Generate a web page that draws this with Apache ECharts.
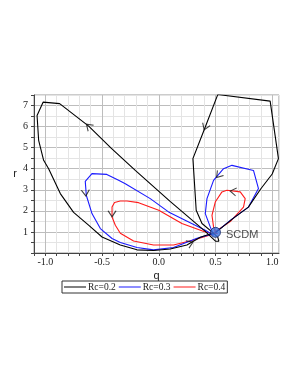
<!DOCTYPE html>
<html>
<head>
<meta charset="utf-8">
<script src="https://cdn.jsdelivr.net/npm/echarts@6/dist/echarts.min.js"></script>
<style>
html,body{margin:0;padding:0;background:#fff;}
#chart{width:300px;height:388px;}
</style>
</head>
<body>
<div id="chart"></div>
<script>
// ---- data ----
var seriesNames = ['Rc=0.2', 'Rc=0.3', 'Rc=0.4'];

var blackQ = [0.50, 0.65, 0.79, 0.90, 1.00, 1.055, 0.982, 0.52, 0.41, 0.301, 0.33, 0.381, 0.469, 0.52, 0.53, 0.50, 0.41, 0.10, -0.207, -0.42, -0.618, -0.874, -1.02, -1.073, -1.059, -1.015, -0.971, -0.868, -0.751, -0.619, -0.50, -0.339, -0.192, -0.046, 0.101, 0.248, 0.366, 0.48];
var blackR = [0.97, 1.62, 2.18, 3.05, 3.75, 4.48, 7.21, 7.52, 5.98, 4.48, 2.03, 1.40, 1.00, 0.75, 0.56, 0.56, 1.03, 2.45, 3.92, 4.98, 6.02, 7.09, 7.16, 6.53, 5.35, 4.40, 4.00, 2.82, 1.93, 1.32, 0.76, 0.38, 0.15, 0.12, 0.19, 0.38, 0.75, 0.95];

var blueQ = [0.50, 0.63, 0.791, 0.879, 0.835, 0.645, 0.571, 0.483, 0.425, 0.41, 0.454, 0.483, 0.41, 0.086, -0.075, -0.295, -0.354, -0.458, -0.589, -0.648, -0.639, -0.589, -0.515, -0.412, -0.339, -0.192, -0.046, 0.13, 0.337, 0.48];
var blueR = [0.97, 1.55, 2.18, 3.06, 3.92, 4.16, 4.00, 3.45, 2.58, 1.87, 1.24, 0.84, 1.08, 1.95, 2.58, 3.29, 3.45, 3.73, 3.77, 3.40, 2.74, 1.87, 1.16, 0.69, 0.50, 0.26, 0.15, 0.26, 0.70, 0.92];

var redQ = [0.52, 0.41, 0.204, 0.0, -0.178, -0.280, -0.340, -0.390, -0.412, -0.412, -0.383, -0.339, -0.222, -0.046, 0.13, 0.307, 0.454, 0.63, 0.747, 0.762, 0.718, 0.601, 0.557, 0.498, 0.469, 0.483, 0.50];
var redR = [0.92, 1.00, 1.40, 2.03, 2.39, 2.47, 2.47, 2.40, 2.18, 1.71, 1.32, 0.94, 0.57, 0.38, 0.38, 0.62, 0.86, 1.49, 2.18, 2.58, 2.90, 2.98, 2.90, 2.42, 1.79, 1.24, 1.00];

// direction arrows: position and rotation (deg)
var arrowQ = [-0.618, 0.41, 0.277, -0.645, 0.527, -0.412, 0.656];
var arrowR = [6.02, 5.98, 0.46, 2.85, 3.69, 1.86, 2.92];
var arrowRot = [227, -22, 113, 5, -40, 0, -98];

var pointQ = 0.5, pointR = 0.98, pointLabel = 'SCDM';

var xTickStep = 0.1, yTickStep = 0.5;

// ---- chart ----
function pairs(qs, rs) { return qs.map(function (q, i) { return [q, rs[i]]; }); }

var chart = echarts.init(document.getElementById('chart'), null, {renderer: 'canvas'});
var serif = 'Liberation Serif';
var sans = 'Liberation Sans';
var colors = ['#000000', '#1a1aff', '#ff1a1a'];

var lineSeries = [[blackQ, blackR], [blueQ, blueR], [redQ, redR]].map(function (d, i) {
  return {
    name: seriesNames[i], type: 'line', data: pairs(d[0], d[1]),
    showSymbol: false, symbol: 'none', smooth: false, clip: true,
    lineStyle: {color: colors[i], width: 1.1}, itemStyle: {color: colors[i]},
    z: 3 - i + 2
  };
});

var arrowData = arrowQ.map(function (q, i) {
  return {value: [q, arrowR[i]], symbolRotate: arrowRot[i]};
});

chart.setOption({
  animation: false,
  backgroundColor: '#fff',
  grid: {left: 34, right: 21, top: 95, bottom: 135, show: true, borderColor: '#999', borderWidth: 1, containLabel: false},
  xAxis: {
    type: 'value', min: -1.1, max: 1.06, interval: xTickStep,
    name: 'q', nameLocation: 'middle', nameGap: 17,
    nameTextStyle: {fontFamily: sans, fontSize: 11, color: '#222'},
    axisLine: {show: true, onZero: false, lineStyle: {color: '#444'}},
    axisTick: {show: true, length: 3, lineStyle: {color: '#444'}},
    axisLabel: {
      fontFamily: serif, fontSize: 10, color: '#222', margin: 4, showMinLabel: true, showMaxLabel: false,
      formatter: function (v) {
        var k = Math.round(v * 10);
        if (k % 5 !== 0) return '';
        return (k / 10).toFixed(1);
      }
    },
    splitLine: {show: true, lineStyle: {color: ['#e4e4e4', '#bdbdbd', '#e4e4e4', '#e4e4e4', '#e4e4e4'], width: 1}}
  },
  yAxis: {
    type: 'value', min: 0, max: 7.5, interval: yTickStep,
    name: 'r', nameLocation: 'middle', nameGap: 17, nameRotate: 0,
    nameTextStyle: {fontFamily: sans, fontSize: 11, color: '#222'},
    axisLine: {show: true, onZero: false, lineStyle: {color: '#444'}},
    axisTick: {show: true, length: 3, lineStyle: {color: '#444'}},
    axisLabel: {
      fontFamily: serif, fontSize: 10, color: '#222', margin: 6,
      formatter: function (v) {
        var k = Math.round(v * 2);
        if (k % 2 !== 0 || k === 0) return '';
        return String(k / 2);
      }
    },
    splitLine: {show: true, lineStyle: {color: ['#bdbdbd', '#e4e4e4'], width: 1}}
  },
  legend: {
    data: seriesNames, left: 62, top: 281, orient: 'horizontal',
    itemWidth: 22, itemHeight: 8, itemGap: 3,
    padding: [1, 2, 1, 2],
    borderColor: '#333', borderWidth: 1,
    textStyle: {fontFamily: serif, fontSize: 9.5, color: '#222', padding: [0, 0, 0, -3]},
    icon: 'path://M0,4 L22,4 L22,5 L0,5 Z'
  },
  series: lineSeries.concat([
    {
      type: 'scatter', data: arrowData, z: 8,
      symbol: 'path://M0,0 L5,7 L10,0', symbolSize: [8, 6],
      itemStyle: {color: 'none', borderColor: '#111', borderWidth: 1},
      silent: true
    },
    {
      type: 'scatter', data: [[pointQ, pointR]], z: 10, symbol: 'circle', symbolSize: 10,
      itemStyle: {color: '#3b74e0', borderColor: '#1a2a6a', borderWidth: 1},
      label: {show: true, position: 'right', distance: 5, offset: [0, 3], formatter: pointLabel,
        fontFamily: sans, fontSize: 11, color: '#222'}
    }
  ])
});
</script>
</body>
</html>
